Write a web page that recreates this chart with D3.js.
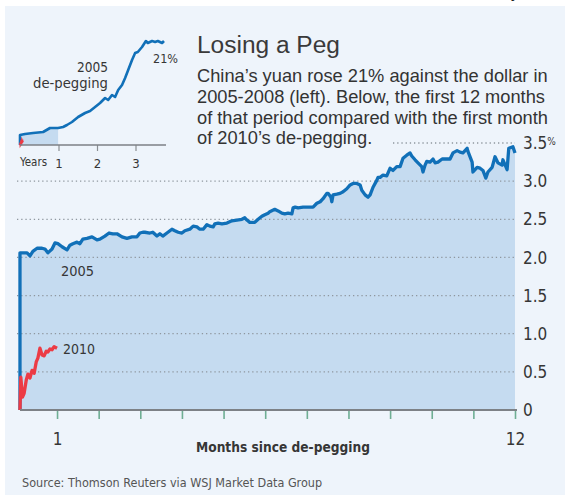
<!DOCTYPE html>
<html><head><meta charset="utf-8">
<script src="https://cdn.jsdelivr.net/npm/d3@7"></script>
<style>body{margin:0;background:#fff}svg{display:block}</style>
</head><body>
<svg id="c" width="570" height="499"></svg>
<script>
// ---- data ----
const months2005 = [0.11,0.11,0.16,0.28,0.35,0.42,0.52,0.64,0.71,0.78,0.88,0.95,1.02,1.12,1.24,1.31,1.38,1.48,1.55,1.62,1.72,1.84,1.96,2.03,2.15,2.25,2.34,2.44,2.56,2.68,2.80,2.92,2.99,3.06,3.11,3.23,3.30,3.40,3.47,3.54,3.64,3.76,3.83,3.91,4.00,4.07,4.19,4.27,4.36,4.43,4.51,4.60,4.67,4.75,4.79,4.87,4.96,5.08,5.20,5.32,5.44,5.51,5.56,5.63,5.75,5.83,5.92,5.99,6.07,6.11,6.23,6.31,6.40,6.47,6.55,6.64,6.67,6.72,6.79,6.91,7.03,7.15,7.24,7.32,7.39,7.48,7.51,7.58,7.60,7.63,7.72,7.80,7.87,7.96,8.04,8.11,8.20,8.28,8.32,8.40,8.47,8.52,8.59,8.68,8.71,8.76,8.83,8.92,9.00,9.07,9.16,9.24,9.31,9.40,9.48,9.52,9.60,9.67,9.76,9.79,9.84,9.88,9.96,10.03,10.08,10.15,10.25,10.37,10.44,10.51,10.61,10.68,10.75,10.85,10.87,10.97,10.99,11.09,11.16,11.23,11.30,11.35,11.45,11.52,11.59,11.69,11.71,11.78,11.81,11.85,11.95,12.00];
const values2005 = [0,2.06,2.06,2.06,2.02,2.08,2.12,2.12,2.11,2.06,2.11,2.19,2.18,2.14,2.10,2.16,2.18,2.20,2.18,2.24,2.25,2.27,2.23,2.24,2.28,2.32,2.31,2.31,2.27,2.25,2.27,2.27,2.32,2.33,2.33,2.32,2.33,2.28,2.31,2.28,2.32,2.37,2.35,2.33,2.32,2.35,2.37,2.41,2.40,2.37,2.37,2.43,2.41,2.40,2.44,2.45,2.44,2.45,2.48,2.49,2.50,2.52,2.49,2.46,2.46,2.50,2.54,2.56,2.58,2.60,2.63,2.61,2.58,2.57,2.58,2.57,2.65,2.66,2.65,2.66,2.66,2.66,2.71,2.73,2.77,2.84,2.84,2.79,2.73,2.82,2.83,2.84,2.86,2.90,2.95,2.97,2.97,2.95,2.88,2.82,2.79,2.82,2.92,3.01,3.05,3.05,3.08,3.07,3.17,3.14,3.19,3.19,3.30,3.34,3.37,3.33,3.28,3.24,3.19,3.12,3.21,3.26,3.25,3.29,3.24,3.25,3.29,3.29,3.29,3.37,3.40,3.38,3.37,3.43,3.39,3.25,3.12,3.18,3.17,3.14,3.04,3.12,3.18,3.32,3.24,3.21,3.28,3.19,3.15,3.43,3.45,3.37];
const months2010 = [0.11,0.13,0.17,0.21,0.26,0.30,0.35,0.40,0.45,0.50,0.54,0.59,0.64,0.69,0.74,0.78,0.83,0.88,0.93,1.00];
const values2010 = [0,0.43,0.17,0.22,0.39,0.47,0.42,0.52,0.48,0.63,0.68,0.81,0.72,0.71,0.77,0.76,0.80,0.79,0.83,0.81];
const years2005 = [0,0,0.13,0.34,0.60,0.78,0.99,1.12,1.22,1.35,1.51,1.69,1.82,1.95,2.08,2.21,2.29,2.39,2.47,2.55,2.65,2.73,2.81,2.91,2.99,3.06,3.17,3.27,3.32,3.43,3.51,3.58,3.69,3.74];
const pct2005 = [0,2.0,2.2,2.4,2.6,3.4,3.4,3.6,4.0,4.6,5.6,6.4,6.8,7.6,8.4,9.4,9.0,10.0,9.6,11.0,12.0,13.4,15.0,17.0,18.4,18.6,19.6,20.8,20.4,20.8,20.6,20.8,20.4,20.8];
const yTicks = [0,0.5,1,1.5,2,2.5,3,3.5];
const yTickLabels = ["0","0.5","1.0","1.5","2.0","2.5","3.0","3.5"];
const xTicks = [1,2,3,4,5,6,7,8,9,10,11,12];
const xTickLabels = ["1","","","","","","","","","","","12"];
const insetTicks = [1,2,3];
const insetTickLabels = ["1","2","3"];
const titleText = "Losing a Peg";
const subtitleLines = ["China\u2019s yuan rose 21% against the dollar in","2005-2008 (left). Below, the first 12 months","of that period compared with the first month","of 2010\u2019s de-pegging."];
const seriesLabels = ["2005","2010"];
const insetLabels = ["2005","de-pegging","21%"];
const xAxisTitle = "Months since de-pegging";
const sourceText = "Source: Thomson Reuters via WSJ Market Data Group";

// ---- drawing ----
const svg = d3.select("#c");
const NARROW = "'Liberation Sans Narrow','DejaVu Sans Condensed','Roboto Condensed',Roboto,sans-serif";
const SANS = "'Liberation Sans',Arial,sans-serif";
const TXT = "#363636";
const BLUE = "#1170b8", RED = "#ec3b45", FILL = "#c5dbf0", BG = "#eef4fb";

function fit(node, w){
  const cur = node.getComputedTextLength();
  const fs = parseFloat(node.getAttribute("font-size"));
  node.setAttribute("font-size", (fs*w/cur).toFixed(2));
}

svg.append("rect").attr("x",5).attr("y",6).attr("width",560).attr("height",489).attr("fill",BG);
// stray glyph at top edge (as in the reference)
svg.append("text").attr("x",511).attr("y",-2).attr("font-family",SANS).attr("font-size",16).attr("fill","#222").text("y");

const x = d3.scaleLinear().domain([0,12]).range([15.4,515]);
const y = d3.scaleLinear().domain([0,3.5]).range([410,143]);

const d05 = months2005.map((m,i)=>({m, v:values2005[i]}));
const d10 = months2010.map((m,i)=>({m, v:values2010[i]}));

svg.append("path").datum(d05)
  .attr("d", d3.area().x(d=>x(d.m)).y0(y(0)).y1(d=>y(d.v)))
  .attr("fill",FILL);

// gridlines
svg.append("g").selectAll("line").data(yTicks.filter(v=>v>0)).join("line")
  .attr("x1", v=> v===3.5 ? 393 : 17).attr("x2", 515)
  .attr("y1", v=>y(v)).attr("y2", v=>y(v))
  .attr("stroke","#8f979f").attr("stroke-width",1.3).attr("stroke-dasharray","1.3,2.9");

// y labels
const yl = svg.append("g").selectAll("text").data(yTicks).join("text")
  .attr("x",523).attr("y", v=>y(v)).attr("dy","0.36em")
  .attr("font-family",NARROW).attr("font-size",17).attr("fill",TXT)
  .text((v,i)=>yTickLabels[i]);
yl.filter(v=>v===3.5).append("tspan").attr("font-size",10).attr("dy",-4).text("%");

// lines
svg.append("path").datum(d05)
  .attr("d", d3.line().x(d=>x(d.m)).y(d=>y(d.v)))
  .attr("fill","none").attr("stroke",BLUE).attr("stroke-width",3.3).attr("stroke-linejoin","round");
svg.append("path").datum(d10)
  .attr("d", d3.line().x(d=>x(d.m)).y(d=>y(d.v)))
  .attr("fill","none").attr("stroke",RED).attr("stroke-width",3.3).attr("stroke-linejoin","round");

// x axis
const xa = svg.append("g").attr("transform",`translate(0,${y(0)})`)
  .call(d3.axisBottom(x).tickValues(xTicks).tickSize(9).tickPadding(14)
    .tickFormat((d,i)=>xTickLabels[i]));
xa.select(".domain").remove();
xa.selectAll(".tick line").attr("stroke","#6fae94").attr("stroke-width",1.6);
xa.selectAll(".tick text").attr("font-family",NARROW).attr("font-size",17).attr("fill",TXT);
svg.append("line").attr("x1",20).attr("x2",517).attr("y1",y(0)).attr("y2",y(0))
  .attr("stroke","#7d8186").attr("stroke-width",2);

// series labels
const l05 = svg.append("text").attr("x",61).attr("y",276).attr("font-family",NARROW).attr("font-size",17).attr("fill",TXT).text(seriesLabels[0]);
fit(l05.node(),33);
const l10 = svg.append("text").attr("x",63).attr("y",354).attr("font-family",NARROW).attr("font-size",17).attr("fill",TXT).text(seriesLabels[1]);
fit(l10.node(),32);

// axis title + source
const at = svg.append("text").attr("x",283).attr("y",452).attr("text-anchor","middle")
  .attr("font-family",NARROW).attr("font-size",17).attr("font-weight","bold").attr("fill",TXT).text(xAxisTitle);
fit(at.node(),174);
const src = svg.append("text").attr("x",22).attr("y",487)
  .attr("font-family",NARROW).attr("font-size",14).attr("fill","#555").text(sourceText);
fit(src.node(),300);

// title + subtitle
const tt = svg.append("text").attr("x",197).attr("y",53).attr("font-family",SANS).attr("font-size",25).attr("fill","#3a3a3a").text(titleText);
fit(tt.node(),143);
const st = svg.append("g").selectAll("text").data(subtitleLines).join("text")
  .attr("x",197).attr("y",(d,i)=>82+i*20.8).attr("font-family",SANS).attr("font-size",17).attr("fill","#333").text(d=>d);
{
  const n = st.nodes()[2]; const cur = n.getComputedTextLength();
  const fs = 17*351/cur; st.attr("font-size",fs.toFixed(2));
}

// ---- inset ----
const xi = d3.scaleLinear().domain([0,3]).range([20,135.5]);
const yi = d3.scaleLinear().domain([0,21]).range([145,40]);
const di = years2005.map((t,i)=>({t, v:pct2005[i]}));
const di10 = months2010.map((m,i)=>({t:m/12, v:values2010[i]}));
svg.append("path").datum(di.filter(d=>d.t<=1))
  .attr("d", d3.area().x(d=>xi(d.t)).y0(yi(0)).y1(d=>yi(d.v))).attr("fill",FILL);
svg.append("path").datum(di)
  .attr("d", d3.line().x(d=>xi(d.t)).y(d=>yi(d.v)))
  .attr("fill","none").attr("stroke",BLUE).attr("stroke-width",2.6).attr("stroke-linejoin","round");
svg.append("path").datum(di10)
  .attr("d", d3.line().x(d=>xi(d.t)).y(d=>yi(d.v)))
  .attr("fill","none").attr("stroke",RED).attr("stroke-width",2.4);
const ia = svg.append("g").attr("transform",`translate(0,${yi(0)})`)
  .call(d3.axisBottom(xi).tickValues(insetTicks).tickSize(6).tickPadding(8).tickFormat((d,i)=>insetTickLabels[i]));
ia.select(".domain").remove();
ia.selectAll(".tick line").attr("stroke","#8a8e93").attr("stroke-width",1.2);
ia.selectAll(".tick text").attr("font-family",NARROW).attr("font-size",13).attr("fill",TXT);
svg.append("line").attr("x1",20).attr("x2",166).attr("y1",yi(0)).attr("y2",yi(0)).attr("stroke","#7d8186").attr("stroke-width",1.5);
const yr = svg.append("text").attr("x",20).attr("y",166).attr("font-family",NARROW).attr("font-size",13).attr("fill",TXT).text("Years");
fit(yr.node(),27);
const i1 = svg.append("text").attr("x",108).attr("y",72).attr("text-anchor","end").attr("font-family",NARROW).attr("font-size",17).attr("fill",TXT).text(insetLabels[0]);
fit(i1.node(),31);
const i2 = svg.append("text").attr("x",108).attr("y",88).attr("text-anchor","end").attr("font-family",NARROW).attr("font-size",17).attr("fill",TXT).text(insetLabels[1]);
fit(i2.node(),75);
const i3 = svg.append("text").attr("x",153).attr("y",63).attr("font-family",NARROW).attr("font-size",16).attr("fill",TXT).text(insetLabels[2]);
fit(i3.node(),25);
</script>
</body></html>
